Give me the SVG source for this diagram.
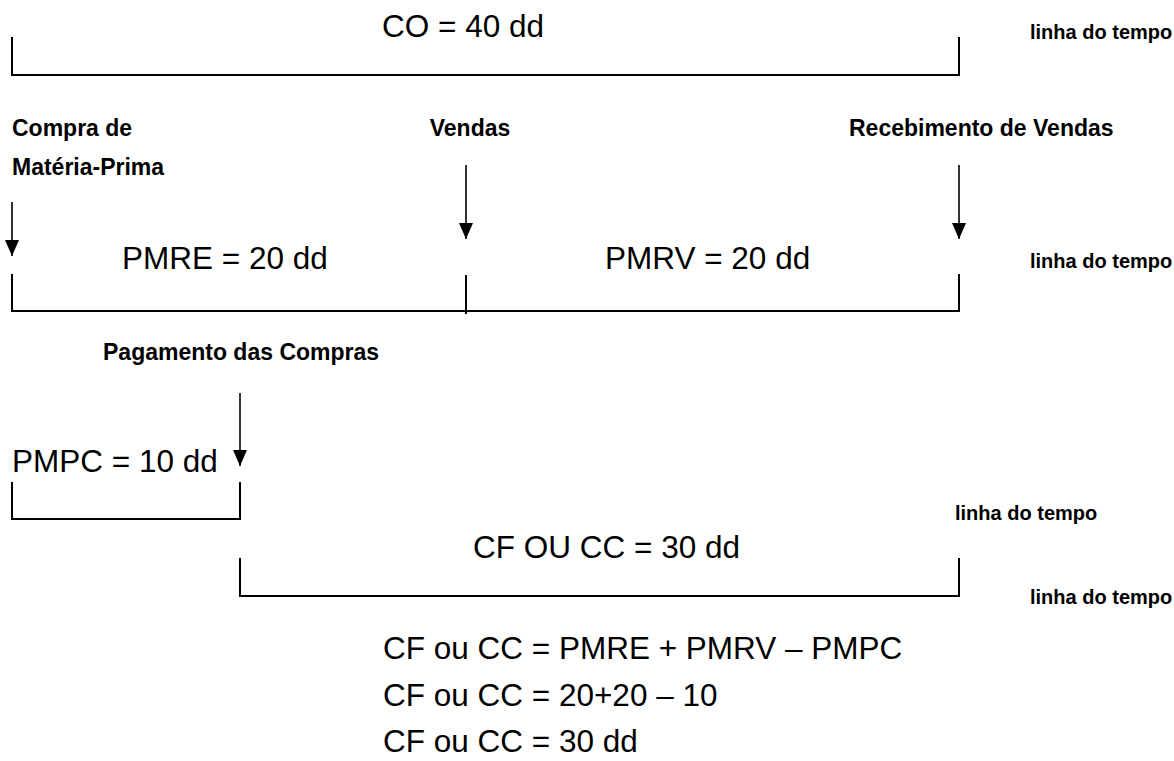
<svg xmlns="http://www.w3.org/2000/svg" width="1174" height="761" viewBox="0 0 1174 761">
<defs>
<style>
.big{font-family:"Liberation Sans",Arial,sans-serif;font-size:31.5px;fill:#000}
.lbl{font-family:"Liberation Sans",Arial,sans-serif;font-size:23px;font-weight:bold;fill:#000}
.lt{font-family:"Liberation Sans",Arial,sans-serif;font-size:20px;font-weight:bold;fill:#000}
.br{fill:none;stroke:#000;stroke-width:2}
.ar{fill:none;stroke:#000;stroke-width:1.6}
</style>
<marker id="ah" markerWidth="16" markerHeight="14" refX="16" refY="7" orient="auto" markerUnits="userSpaceOnUse" viewBox="0 0 16 14">
<path d="M0,0 L16,7 L0,14 Z" fill="#000"/>
</marker>
</defs>
<rect width="1174" height="761" fill="#fff"/>
<g id="co">
<text class="big" x="382" y="37">CO = 40 dd</text>
<path class="br" d="M12,37 V75 H959 V37"/>
<text class="lt" x="1030" y="39">linha do tempo</text>
</g>
<g id="compra">
<text class="lbl" x="12" y="136">Compra de</text>
<text class="lbl" x="12" y="175">Matéria-Prima</text>
</g>
<g id="vendas">
<text class="lbl" x="470" y="136" text-anchor="middle">Vendas</text>
</g>
<g id="recebimento">
<text class="lbl" x="849" y="136">Recebimento de Vendas</text>
</g>
<g id="periodos">
<text class="big" x="122" y="269">PMRE = 20 dd</text>
<text class="big" x="605" y="269">PMRV = 20 dd</text>
<text class="lt" x="1030" y="268">linha do tempo</text>
<path class="br" d="M12,274 V311 H959 V274 M466,275 V314"/>
</g>
<g id="pagamento">
<text class="lbl" x="103" y="360">Pagamento das Compras</text>
<text class="big" x="12" y="472">PMPC = 10 dd</text>
<path class="br" d="M12,482 V519 H240 V482"/>
<text class="lt" x="955" y="520">linha do tempo</text>
</g>
<g id="ciclo">
<text class="big" x="473" y="558">CF OU CC = 30 dd</text>
<path class="br" d="M240,558 V596 H959 V558"/>
<text class="lt" x="1030" y="604">linha do tempo</text>
</g>
<g id="formulas">
<text class="big" x="383" y="659">CF ou CC = PMRE + PMRV – PMPC</text>
<text class="big" x="383" y="706">CF ou CC = 20+20 – 10</text>
<text class="big" x="383" y="752">CF ou CC = 30 dd</text>
</g>
<g id="connectors">
<line class="ar" x1="12" y1="202" x2="12" y2="256" marker-end="url(#ah)"/>
<line class="ar" x1="466" y1="165" x2="466" y2="239" marker-end="url(#ah)"/>
<line class="ar" x1="959" y1="165" x2="959" y2="239" marker-end="url(#ah)"/>
<line class="ar" x1="240" y1="393" x2="240" y2="466" marker-end="url(#ah)"/>
</g>
</svg>
